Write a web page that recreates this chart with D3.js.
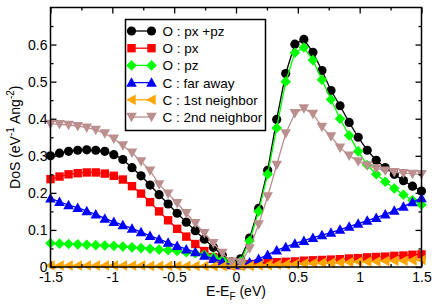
<!DOCTYPE html>
<html>
<head>
<meta charset="utf-8">
<script src="https://cdn.jsdelivr.net/npm/d3@7"></script>
<style>
  body { margin: 0; background: #fff; }
  svg { display: block; }
</style>
</head>
<body>
<svg id="chart"></svg>
<script>
// energy grid (eV)
const energy = [-1.5, -1.427, -1.354, -1.28, -1.207, -1.134, -1.061, -0.988, -0.915, -0.841, -0.768,
  -0.695, -0.622, -0.549, -0.476, -0.402, -0.329, -0.256, -0.183, -0.11, -0.037,
  0.037, 0.11, 0.183, 0.256, 0.329, 0.402, 0.476, 0.549, 0.622, 0.695, 0.768,
  0.841, 0.915, 0.988, 1.061, 1.134, 1.207, 1.28, 1.354, 1.427, 1.5];

const oPxPz = [0.300, 0.307, 0.312, 0.315, 0.316, 0.315, 0.312, 0.303, 0.290, 0.268, 0.246,
  0.221, 0.195, 0.170, 0.145, 0.121, 0.098, 0.075, 0.053, 0.032, 0.014,
  0.022, 0.078, 0.158, 0.261, 0.398, 0.522, 0.601, 0.614, 0.579, 0.530, 0.476,
  0.435, 0.390, 0.350, 0.315, 0.288, 0.268, 0.250, 0.233, 0.218, 0.205];

const oPx = [0.237, 0.244, 0.250, 0.253, 0.255, 0.255, 0.252, 0.246, 0.236, 0.218, 0.198,
  0.175, 0.150, 0.126, 0.103, 0.082, 0.062, 0.043, 0.027, 0.014, 0.005,
  0.005, 0.008, 0.010, 0.011, 0.013, 0.014, 0.015, 0.017, 0.018, 0.019, 0.020,
  0.021, 0.023, 0.024, 0.026, 0.027, 0.028, 0.030, 0.031, 0.033, 0.034];

const oPz = [0.064, 0.063, 0.062, 0.061, 0.060, 0.059, 0.058, 0.057, 0.055, 0.053, 0.051,
  0.049, 0.047, 0.045, 0.043, 0.040, 0.037, 0.033, 0.027, 0.019, 0.010,
  0.015, 0.070, 0.150, 0.250, 0.375, 0.500, 0.578, 0.592, 0.558, 0.505, 0.452,
  0.400, 0.355, 0.312, 0.275, 0.250, 0.230, 0.212, 0.195, 0.180, 0.168];

const cFar = [0.185, 0.176, 0.167, 0.160, 0.151, 0.142, 0.131, 0.122, 0.113, 0.104, 0.094,
  0.084, 0.075, 0.066, 0.057, 0.048, 0.040, 0.031, 0.022, 0.014, 0.006,
  0.005, 0.013, 0.022, 0.033, 0.045, 0.054, 0.063, 0.071, 0.079, 0.086, 0.093,
  0.101, 0.109, 0.117, 0.125, 0.133, 0.142, 0.152, 0.163, 0.175, 0.186];

const c1st = [0.004, 0.004, 0.004, 0.004, 0.004, 0.004, 0.004, 0.004, 0.004, 0.004, 0.004,
  0.003, 0.003, 0.003, 0.003, 0.003, 0.003, 0.003, 0.002, 0.002, 0.002,
  0.002, 0.003, 0.004, 0.005, 0.006, 0.007, 0.008, 0.009, 0.010, 0.011, 0.011,
  0.012, 0.013, 0.014, 0.014, 0.015, 0.016, 0.017, 0.017, 0.018, 0.019];

const c2nd = [0.386, 0.385, 0.383, 0.380, 0.376, 0.370, 0.360, 0.346, 0.328, 0.308, 0.285,
  0.260, 0.223, 0.198, 0.172, 0.145, 0.118, 0.091, 0.064, 0.038, 0.014,
  0.012, 0.050, 0.115, 0.190, 0.275, 0.360, 0.415, 0.428, 0.413, 0.378, 0.352,
  0.322, 0.300, 0.285, 0.274, 0.266, 0.260, 0.256, 0.253, 0.251, 0.250];

const seriesNames = ['O : px +pz', 'O : px', 'O : pz', 'C : far away', 'C : 1st neighbor', 'C : 2nd neighbor'];
const seriesValues = [oPxPz, oPx, oPz, cFar, c1st, c2nd];
const seriesColors = ['#000000', '#ff0000', '#00ff00', '#0000ff', '#ffa500', '#bc8f8f'];
const seriesShapes = ['circle', 'square', 'diamond', 'triUp', 'triLeft', 'triDown'];

const xTicks = [-1.5, -1, -0.5, 0, 0.5, 1, 1.5];
const yTicks = [0, 0.1, 0.2, 0.3, 0.4, 0.5, 0.6];

const width = 436, height = 308;
const font = '"Liberation Sans", Arial, sans-serif';

const svg = d3.select('#chart')
  .attr('width', width)
  .attr('height', height)
  .style('background', '#fff');

const x = d3.scaleLinear().domain([-1.5, 1.5]).range([50.5, 421.5]);
const y = d3.scaleLinear().domain([0, 0.7]).range([267, 7.5]);

// marker paths, centred on 0,0
function markerPath(shape) {
  switch (shape) {
    case 'circle': return 'M4.6,0A4.6,4.6 0 1,1 -4.6,0A4.6,4.6 0 1,1 4.6,0Z';
    case 'square': return 'M-4.2,-4.2H4.2V4.2H-4.2Z';
    case 'diamond': return 'M0,-5.3L5.3,0L0,5.3L-5.3,0Z';
    case 'triUp': return 'M0,-5.3L5.3,4.2L-5.3,4.2Z';
    case 'triDown': return 'M0,5.3L5.3,-4.2L-5.3,-4.2Z';
    case 'triLeft': return 'M-5.3,0L4.2,-5.3L4.2,5.3Z';
  }
}

const line = d3.line()
  .x(d => x(d[0]))
  .y(d => y(d[1]));

const plot = svg.append('g');

seriesValues.forEach((vals, i) => {
  const pts = energy.map((e, j) => [e, vals[j]]);
  plot.append('path')
    .datum(pts)
    .attr('fill', 'none')
    .attr('stroke', seriesColors[i])
    .attr('stroke-width', 1.3)
    .attr('d', line);
  plot.selectAll('.m' + i)
    .data(pts)
    .join('path')
    .attr('class', 'm' + i)
    .attr('transform', d => `translate(${x(d[0])},${y(d[1])})`)
    .attr('d', markerPath(seriesShapes[i]))
    .attr('fill', seriesColors[i]);
});

// frame
svg.append('rect')
  .attr('x', x.range()[0])
  .attr('y', y.range()[1])
  .attr('width', x.range()[1] - x.range()[0])
  .attr('height', y.range()[0] - y.range()[1])
  .attr('fill', 'none')
  .attr('stroke', '#000')
  .attr('stroke-width', 1.5);

const fmt = d => String(+d.toFixed(2));
const xMinor = d3.range(-1.25, 1.5, 0.5);
const yMinor = d3.range(0.05, 0.7, 0.1);

function styleAxis(g) {
  g.select('.domain').remove();
  g.selectAll('line').attr('stroke', '#000').attr('stroke-width', 1.3);
  g.selectAll('text').attr('font-family', font).attr('font-size', 14).attr('fill', '#000');
}

// bottom
svg.append('g').attr('transform', `translate(0,${y(0)})`)
  .call(d3.axisBottom(x).tickValues(xTicks).tickSize(-6).tickPadding(5).tickFormat(fmt))
  .call(styleAxis);
svg.append('g').attr('transform', `translate(0,${y(0)})`)
  .call(d3.axisBottom(x).tickValues(xMinor).tickSize(-3).tickFormat(''))
  .call(styleAxis);
// top
svg.append('g').attr('transform', `translate(0,${y(0.7)})`)
  .call(d3.axisTop(x).tickValues(xTicks).tickSize(-6).tickFormat(''))
  .call(styleAxis);
svg.append('g').attr('transform', `translate(0,${y(0.7)})`)
  .call(d3.axisTop(x).tickValues(xMinor).tickSize(-3).tickFormat(''))
  .call(styleAxis);
// left
svg.append('g').attr('transform', `translate(${x(-1.5)},0)`)
  .call(d3.axisLeft(y).tickValues(yTicks).tickSize(-6).tickPadding(3).tickFormat(fmt))
  .call(styleAxis);
svg.append('g').attr('transform', `translate(${x(-1.5)},0)`)
  .call(d3.axisLeft(y).tickValues(yMinor).tickSize(-3).tickFormat(''))
  .call(styleAxis);
// right
svg.append('g').attr('transform', `translate(${x(1.5)},0)`)
  .call(d3.axisRight(y).tickValues(yTicks).tickSize(-6).tickFormat(''))
  .call(styleAxis);
svg.append('g').attr('transform', `translate(${x(1.5)},0)`)
  .call(d3.axisRight(y).tickValues(yMinor).tickSize(-3).tickFormat(''))
  .call(styleAxis);

// axis titles
const xTitle = svg.append('text')
  .attr('x', (x.range()[0] + x.range()[1]) / 2)
  .attr('y', 296)
  .attr('text-anchor', 'middle')
  .attr('font-family', font)
  .attr('font-size', 14);
xTitle.append('tspan').text('E-E');
xTitle.append('tspan').attr('font-size', 10).attr('dy', 4).text('F');
xTitle.append('tspan').attr('dy', -4).text(' (eV)');

const yTitle = svg.append('text')
  .attr('transform', `translate(20,${(y.range()[0] + y.range()[1]) / 2}) rotate(-90)`)
  .attr('text-anchor', 'middle')
  .attr('font-family', font)
  .attr('font-size', 14);
yTitle.append('tspan').text('DoS (eV');
yTitle.append('tspan').attr('font-size', 10).attr('dy', -6).text('-1');
yTitle.append('tspan').attr('dy', 6).text(' Ang');
yTitle.append('tspan').attr('font-size', 10).attr('dy', -6).text('-2');
yTitle.append('tspan').attr('dy', 6).text(')');

// legend
const legend = svg.append('g');
legend.append('rect')
  .attr('x', 125.5)
  .attr('y', 19.5)
  .attr('width', 140)
  .attr('height', 111)
  .attr('fill', '#fff')
  .attr('stroke', '#000')
  .attr('stroke-width', 1.5);

seriesNames.forEach((name, i) => {
  const cy = 31 + i * 17.2;
  legend.append('line')
    .attr('x1', 131.5).attr('x2', 151.5)
    .attr('y1', cy).attr('y2', cy)
    .attr('stroke', seriesColors[i])
    .attr('stroke-width', 1.3);
  [131.5, 151.5].forEach(mx => {
    legend.append('path')
      .attr('transform', `translate(${mx},${cy})`)
      .attr('d', markerPath(seriesShapes[i]))
      .attr('fill', seriesColors[i]);
  });
  legend.append('text')
    .attr('x', 162.5)
    .attr('y', cy + 5)
    .attr('font-family', font)
    .attr('font-size', 13.5)
    .text(name);
});
</script>
</body>
</html>
